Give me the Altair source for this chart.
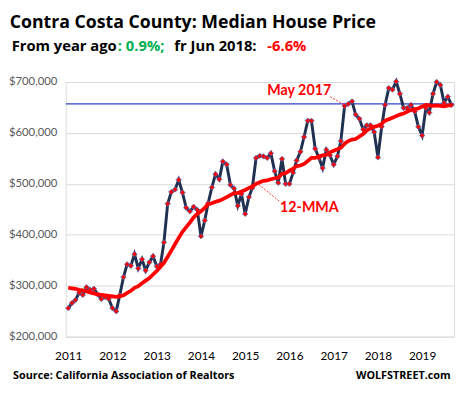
import altair as alt
import pandas as pd

# Median house price, Contra Costa County, monthly Jan 2011 .. Sep 2019 (thousand $)
price_k = [
    256, 266, 272, 286, 282, 297, 292, 294, 283, 274, 278, 274,  # 2011
    256, 250, 281, 317, 342, 339, 362, 334, 352, 330, 346, 358,  # 2012
    338, 342, 385, 461, 484, 489, 508, 483, 453, 446, 455, 449,  # 2013
    397, 428, 462, 493, 519, 509, 544, 538, 498, 491, 457, 480,  # 2014
    441, 474, 492, 551, 555, 554, 551, 560, 525, 502, 549, 500,  # 2015
    500, 522, 546, 563, 592, 624, 624, 569, 551, 531, 567, 556,  # 2016
    538, 554, 584, 653, 657, 662, 636, 628, 607, 615, 615, 602,  # 2017
    552, 612, 655, 688, 685, 701, 677, 649, 649, 655, 642, 612,  # 2018
    595, 649, 640, 677, 700, 694, 659, 671, 655,                 # 2019
]

# 12-month moving average (thousand $)
mma_k = [
    296, 295, 294, 292, 291, 289, 287, 285, 283, 282, 281, 280,  # 2011
    279, 278, 279, 281, 286, 290, 296, 299, 305, 310, 315, 322,  # 2012
    329, 337, 345, 357, 369, 382, 394, 406, 415, 424, 434, 441,  # 2013
    446, 453, 460, 462, 465, 467, 470, 474, 478, 482, 482, 485,  # 2014
    488, 492, 495, 500, 503, 506, 507, 509, 511, 512, 520, 521,  # 2015
    526, 530, 535, 536, 539, 545, 551, 551, 554, 556, 557, 562,  # 2016
    565, 568, 571, 579, 584, 587, 588, 593, 598, 605, 609, 612,  # 2017
    614, 618, 624, 627, 630, 633, 636, 638, 642, 645, 647, 648,  # 2018
    652, 655, 654, 653, 654, 653, 652, 654, 654,                 # 2019
]

start_month = "2011-01-01"
may_2017_k = 657
year_ticks = ["2011", "2012", "2013", "2014", "2015", "2016", "2017", "2018", "2019"]
y_ticks = [200000, 300000, 400000, 500000, 600000, 700000]

dates = pd.date_range(start_month, periods=len(price_k), freq="MS")
df = pd.DataFrame({
    "date": dates,
    "price": [v * 1000 for v in price_k],
    "mma": [v * 1000 for v in mma_k],
})

FONT = "Lato"
TFONT = "Open Sans"
W, H = 395, 259

x_enc = alt.X(
    "date:T",
    scale=alt.Scale(domain=["2010-12-11", "2019-09-22"]),
    axis=alt.Axis(
        values=[f"{y}-01-01" for y in year_ticks],
        format="%Y", title=None, grid=False, ticks=False, domain=False,
        labelFont=FONT, labelFontSize=12, labelColor="#000000", labelPadding=14,
    ),
)
y_scale = alt.Scale(domain=[200000, 700000], nice=False, zero=False)

base = alt.Chart(df)

grid = base.mark_line(opacity=0).encode(
    x=x_enc,
    y=alt.Y(
        "price:Q", scale=y_scale,
        axis=alt.Axis(
            values=y_ticks, format="$,.0f", title=None, ticks=False, domain=False,
            grid=True, gridColor="#D9D9D9", gridWidth=1,
            labelFont=FONT, labelFontSize=11.5, labelColor="#595959", labelPadding=9,
        ),
    ),
)

ref = alt.Chart(pd.DataFrame({"v": [may_2017_k * 1000]})).mark_rule(
    color="#2F45C8", strokeWidth=1.2
).encode(y=alt.Y("v:Q", scale=y_scale))

price_line = base.mark_line(color="#1F3050", strokeWidth=3).encode(
    x="date:T", y=alt.Y("price:Q", scale=y_scale)
)
price_pts = base.mark_point(
    shape="diamond", filled=True, fill="#FF0000", stroke="#4472C4",
    strokeWidth=0.7, size=30, opacity=1,
).encode(x="date:T", y=alt.Y("price:Q", scale=y_scale))

mma_line = base.mark_line(color="#FF0000", strokeWidth=3.8).encode(
    x="date:T", y=alt.Y("mma:Q", scale=y_scale)
)

one = pd.DataFrame({"a": [0]})


def txt(s, x, y, color="#000000", size=14, align="left", weight="bold", font=TFONT):
    return alt.Chart(one).mark_text(
        text=s, font=font, fontSize=size, fontWeight=weight, color=color,
        align=align, baseline="alphabetic",
    ).encode(x=alt.value(x), y=alt.value(y))


def leader(x1, y1, x2, y2):
    return alt.Chart(one).mark_rule(
        color="#FF0000", strokeWidth=0.8, strokeDash=[2, 1.5]
    ).encode(x=alt.value(x1), y=alt.value(y1), x2=alt.value(x2), y2=alt.value(y2))


texts = [
    txt("Contra Costa County: Median House Price", -57, -55, size=18),
    txt("From year ago", -55, -32, size=15),
    txt(": 0.9%;", 53, -32, color="#00B050", size=15),
    txt("fr Jun 2018:", 110.5, -32, size=15),
    txt("-6.6%", 205, -32, color="#FF0000", size=15),
    txt("May 2017", 270, 13, color="#FF0000", size=14.5, align="right", font=FONT),
    txt("12-MMA", 218, 132, color="#FF0000", size=14.5, font=FONT),
    txt("Source: California Association of Realtors", -53.5, 302, size=11),
    txt("WOLFSTREET.com", 391.5, 302, size=11, align="right"),
]

chart = alt.layer(
    grid, ref, price_line, price_pts, mma_line,
    leader(269, 15, 283, 23),
    leader(191, 100, 217, 121),
    *texts,
).properties(
    width=W, height=H,
    autosize=alt.AutoSizeParams(type="none"),
    padding={"left": 58.7, "top": 72, "right": 5, "bottom": 52},
).configure_view(stroke=None).configure(background="#FFFFFF")

chart.save("out.html", embed_options={"renderer": "svg", "actions": False})
